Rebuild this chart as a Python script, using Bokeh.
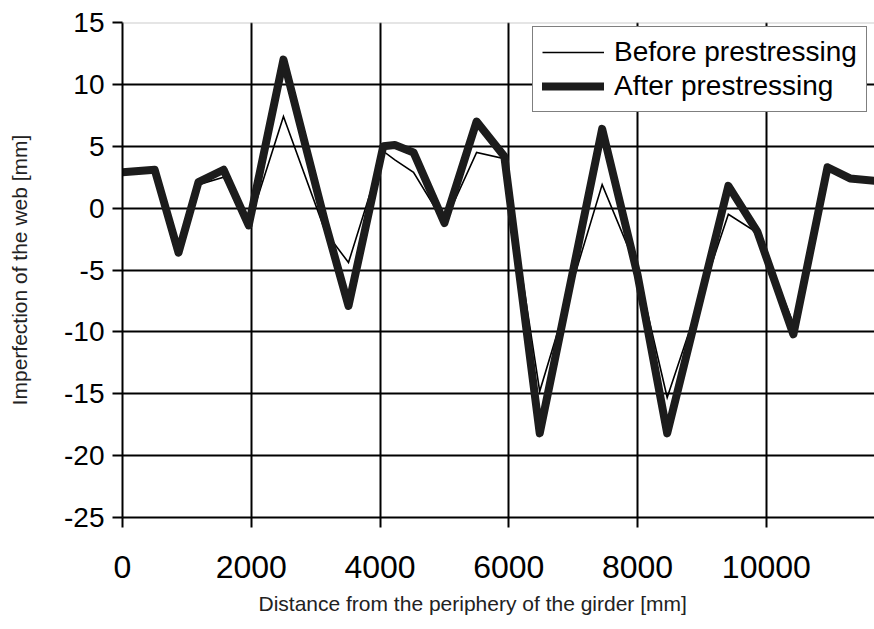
from bokeh.plotting import figure
from bokeh.models import FixedTicker, Span, Legend, LegendItem, Range1d, Title
from bokeh.embed import file_html
from bokeh.resources import INLINE

# Data
distance = [0, 500, 870, 1180, 1570, 1960, 2500, 3150, 3510, 4050, 4230, 4520,
            5000, 5500, 5930, 6480, 7450, 8000, 8460, 9410, 9860, 10420, 10950,
            11300, 11680]
before = [2.9, 3.1, -3.6, 1.9, 2.5, -1.4, 7.4, -1.9, -4.4, 4.6, 3.9, 2.9,
          -1.2, 4.5, 4.0, -14.8, 1.9, -5.0, -15.3, -0.5, -2.0, -9.3, 3.3,
          2.4, 2.2]
after = [2.9, 3.1, -3.6, 2.1, 3.1, -1.4, 12.0, -1.2, -7.9, 5.0, 5.1, 4.5,
         -1.2, 7.0, 4.2, -18.2, 6.4, -5.4, -18.2, 1.8, -1.9, -10.2, 3.3,
         2.4, 2.2]
x_ticks = [0, 2000, 4000, 6000, 8000, 10000]
y_ticks = [-25, -20, -15, -10, -5, 0, 5, 10, 15]
x_label = "Distance from the periphery of the girder [mm]"
y_label = "Imperfection of the web [mm]"
series_names = ["Before prestressing", "After prestressing"]

FONT = "Liberation Sans"

p = figure(width=874, height=628, output_backend="svg", toolbar_location=None,
           x_range=Range1d(0, 11680), y_range=Range1d(-25, 15),
           min_border_left=122, min_border_right=0, min_border_top=22,
           min_border_bottom=111)
p.outline_line_color = None
p.background_fill_color = "white"
p.border_fill_color = "white"

# axes
p.xaxis.ticker = FixedTicker(ticks=x_ticks)
p.yaxis.ticker = FixedTicker(ticks=y_ticks)
p.xaxis.major_label_overrides = {t: str(t) for t in x_ticks}
p.yaxis.major_label_overrides = {t: str(t) for t in y_ticks}
for ax in (p.xaxis[0], p.yaxis[0]):
    ax.axis_line_color = "black"
    ax.axis_line_width = 2
    ax.major_tick_line_color = "black"
    ax.major_tick_line_width = 2
    ax.major_tick_out = 10
    ax.major_tick_in = 0
    ax.minor_tick_line_color = None
    ax.major_label_text_font = FONT
    ax.major_label_text_color = "black"
    ax.axis_label_text_font = FONT
    ax.axis_label_text_font_style = "normal"
    ax.axis_label_text_color = "#222222"

p.xaxis.major_label_text_font_size = "32px"
p.xaxis.major_label_standoff = 28
p.yaxis.major_label_text_font_size = "28px"
p.yaxis.major_label_standoff = 8
p.yaxis.axis_label = y_label
p.yaxis.axis_label_text_font_size = "21px"
p.yaxis.axis_label_standoff = 30

# grid
p.xgrid.ticker = FixedTicker(ticks=x_ticks[1:])
p.ygrid.ticker = FixedTicker(ticks=y_ticks[1:-1])
p.xgrid.grid_line_color = "black"
p.ygrid.grid_line_color = "black"
p.xgrid.grid_line_width = 2
p.ygrid.grid_line_width = 2

top = Span(location=15, dimension="width", line_color="#999999",
           line_width=2, line_dash="1 1")
p.add_layout(top)

r1 = p.line(distance, before, line_color="black", line_width=1.6,
            line_join="miter")
r2 = p.line(distance, after, line_color="#1c1c1c", line_width=8,
            line_join="round", line_cap="round")

legend = Legend(items=[LegendItem(label=series_names[0], renderers=[r1]),
                       LegendItem(label=series_names[1], renderers=[r2])],
                location=(410, 405))
legend.label_text_font = FONT
legend.label_text_font_size = "28px"
legend.label_text_color = "black"
legend.glyph_width = 62
legend.glyph_height = 32
legend.label_height = 32
legend.label_standoff = 10
legend.spacing = 2
legend.padding = 9
legend.margin = 0
legend.border_line_color = "black"
legend.border_line_width = 1.5
legend.background_fill_alpha = 1
p.add_layout(legend)

xt = Title(text=x_label, align="left", offset=136, text_font=FONT,
           text_font_size="21px", text_font_style="normal",
           text_color="#222222", standoff=18)
p.add_layout(xt, "below")

open("out.html", "w").write(file_html(p, INLINE))
